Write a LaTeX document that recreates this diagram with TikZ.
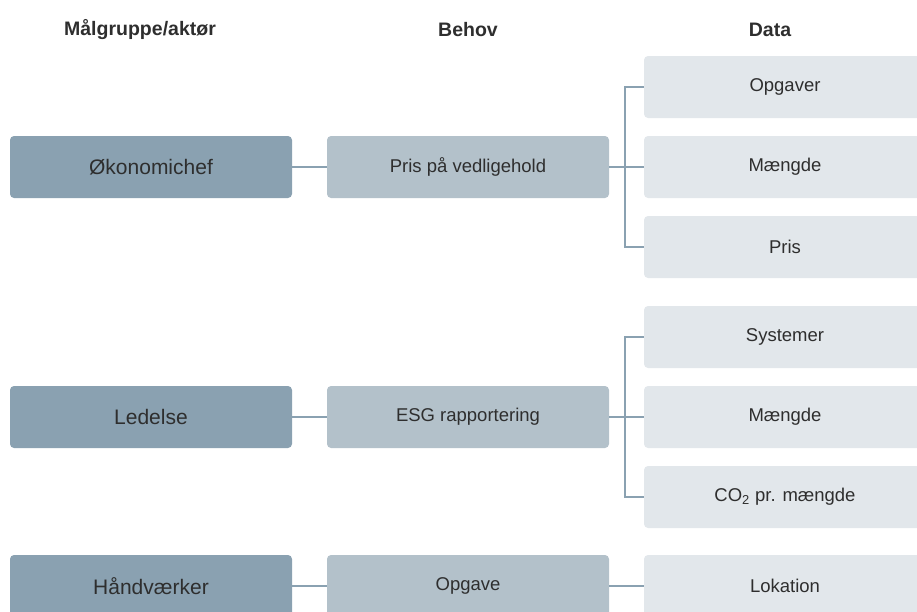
\documentclass[tikz,border=0pt]{standalone}
\usepackage{fontspec}
\setmainfont{Liberation Sans}
\definecolor{actorc}{HTML}{8AA1B1}
\definecolor{needc}{HTML}{B3C1CA}
\definecolor{datac}{HTML}{E2E7EB}
\definecolor{linec}{HTML}{8AA1B1}
\definecolor{txtc}{HTML}{2E2E2E}
\tikzset{
  boxbase/.style={rounded corners=4pt, minimum width=282pt, minimum height=62pt, inner sep=0pt, text=txtc, anchor=center},
  actorbox/.style={boxbase, fill=actorc, font=\fontsize{21}{25}\selectfont},
  needbox/.style={boxbase, fill=needc, font=\fontsize{18.5}{22}\selectfont},
  databox/.style={boxbase, fill=datac, font=\fontsize{18.5}{22}\selectfont},
  headtxt/.style={font=\bfseries\fontsize{19.5}{23}\selectfont, text=txtc, inner sep=0pt},
  conn/.style={draw=linec, line width=1.6pt}
}
\begin{document}
\begin{tikzpicture}[x=1pt,y=-1pt]
\useasboundingbox (0,0) rectangle (917,611);
\clip (0,0) rectangle (917,611);
% headers
\node[headtxt] (h1) at (140,30) {Målgruppe/aktør};
\node[headtxt] (h2) at (468,30) {Behov};
\node[headtxt] (h3) at (770,30) {Data};
% group 1
\node[actorbox] (a1) at (151,167) {Økonomichef};
\node[needbox] (b1) at (468,167) {Pris på vedligehold};
\node[databox] (d11) at (785,87) {Opgaver};
\node[databox] (d12) at (785,167) {Mængde};
\node[databox] (d13) at (785,247) {Pris};
% group 2
\node[actorbox] (a2) at (151,417) {Ledelse};
\node[needbox] (b2) at (468,417) {ESG rapportering};
\node[databox] (d21) at (785,337) {Systemer};
\node[databox] (d22) at (785,417) {Mængde};
\node[databox] (d23) at (785,497) {CO\textsubscript{2} pr. mængde};
% group 3
\node[actorbox] (a3) at (151,586) {Håndværker};
\node[needbox] (b3) at (468,586) {Opgave};
\node[databox] (d31) at (785,586) {Lokation};
% connectors
\draw[conn] (a1.east) -- (b1.west);
\draw[conn] (b1.east) -- (d12.west);
\draw[conn] (d11.west) -- ++(-19,0) |- (d13.west);
\draw[conn] (a2.east) -- (b2.west);
\draw[conn] (b2.east) -- (d22.west);
\draw[conn] (d21.west) -- ++(-19,0) |- (d23.west);
\draw[conn] (a3.east) -- (b3.west);
\draw[conn] (b3.east) -- (d31.west);
\end{tikzpicture}
\end{document}
